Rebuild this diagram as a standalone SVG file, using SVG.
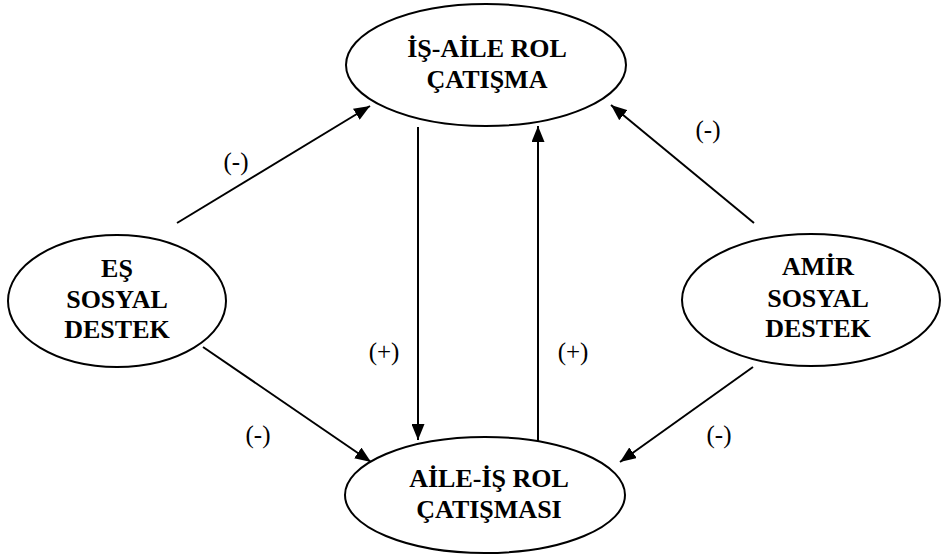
<svg xmlns="http://www.w3.org/2000/svg" width="944" height="556" viewBox="0 0 944 556">
<defs>
<style>
.node ellipse{fill:#fff;stroke:#000;stroke-width:2}
.node text{font-family:"Liberation Serif","Times New Roman",serif;font-weight:bold;font-size:26px;text-anchor:middle;fill:#000}
.edges line{stroke:#000;stroke-width:2}
.lbl{font-family:"Liberation Serif","Times New Roman",serif;font-size:25px;text-anchor:middle;fill:#000}
</style>
<marker id="ahb" viewBox="0 0 16 13" refX="16" refY="6.5" markerWidth="16" markerHeight="13" markerUnits="userSpaceOnUse" orient="auto">
<path d="M0,0 L16,6.5 L0,13 z" fill="#000"/>
</marker>
</defs>
<rect width="944" height="556" fill="#fff"/>
<g class="edges">
<line x1="177" y1="223" x2="370" y2="106" marker-end="url(#ahb)"/>
<line x1="203" y1="347" x2="371" y2="462" marker-end="url(#ahb)"/>
<line x1="418" y1="127" x2="418" y2="440" marker-end="url(#ahb)"/>
<line x1="538" y1="442" x2="538" y2="126" marker-end="url(#ahb)"/>
<line x1="754" y1="223" x2="611" y2="105" marker-end="url(#ahb)"/>
<line x1="753" y1="367" x2="620" y2="462" marker-end="url(#ahb)"/>
<text class="lbl" x="236" y="170">(-)</text>
<text class="lbl" x="708" y="138">(-)</text>
<text class="lbl" x="384" y="360">(+)</text>
<text class="lbl" x="573" y="360">(+)</text>
<text class="lbl" x="258" y="443">(-)</text>
<text class="lbl" x="719" y="443">(-)</text>
</g>
<g id="n_isaile" class="node">
<ellipse cx="486" cy="65" rx="140" ry="61"/>
<text x="487" y="57">İŞ-AİLE ROL</text>
<text x="487" y="88">ÇATIŞMA</text>
</g>
<g id="n_es" class="node">
<ellipse cx="117" cy="301" rx="109" ry="66"/>
<text x="117" y="277">EŞ</text>
<text x="117" y="308">SOSYAL</text>
<text x="117" y="338">DESTEK</text>
</g>
<g id="n_amir" class="node">
<ellipse cx="811" cy="300" rx="129" ry="66"/>
<text x="818" y="275">AMİR</text>
<text x="818" y="307">SOSYAL</text>
<text x="818" y="337">DESTEK</text>
</g>
<g id="n_aileis" class="node">
<ellipse cx="485" cy="495" rx="140" ry="58"/>
<text x="489" y="487">AİLE-İŞ ROL</text>
<text x="489" y="518">ÇATIŞMASI</text>
</g>
</svg>
